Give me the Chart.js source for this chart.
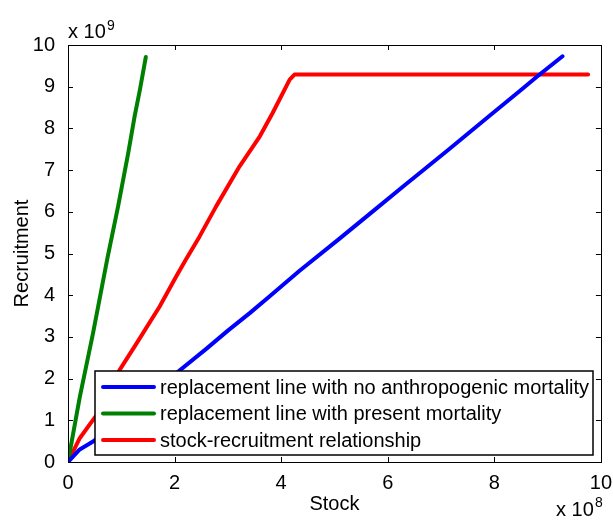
<!DOCTYPE html>
<html>
<head>
<meta charset="utf-8">
<script src="https://cdn.jsdelivr.net/npm/chart.js@4.4.1/dist/chart.umd.min.js"></script>
<style>
  html, body { margin: 0; padding: 0; background: #fff; }
  #wrap { width: 613px; height: 520px; position: relative; }
</style>
</head>
<body>
<div id="wrap"><canvas id="chart"></canvas></div>
<script>
// Stock in units of 1e8, recruitment in units of 1e9
const seriesLabels = [
    'replacement line with no anthropogenic mortality',
    'replacement line with present mortality',
    'stock-recruitment relationship'
];

const blueStock = [0, 0.22, 0.47, 1.0, 1.5, 2.03, 2.6, 3.0, 3.41, 3.78, 4.34, 5.09, 5.72, 6.34, 6.59, 7.15, 7.9, 8.5, 8.81, 9.28];
const blueRecr  = [0, 0.30, 0.49, 1.03, 1.56, 2.13, 2.72, 3.15, 3.57, 3.97, 4.58, 5.35, 6.01, 6.66, 6.92, 7.50, 8.29, 8.92, 9.25, 9.73];

const greenStock = [0, 0.22, 0.47, 0.74, 0.94, 1.13, 1.25, 1.35, 1.46];
const greenRecr  = [0, 1.55, 3.09, 4.89, 6.13, 7.41, 8.29, 8.93, 9.71];

const redStock = [0, 0.22, 0.47, 0.66, 0.97, 1.29, 1.72, 2.03, 2.21, 2.47, 2.78, 3.22, 3.6, 3.84, 4.16, 4.25, 9.76];
const redRecr  = [0, 0.57, 1.01, 1.33, 2.21, 2.85, 3.73, 4.45, 4.85, 5.41, 6.13, 7.09, 7.81, 8.37, 9.17, 9.29, 9.29];

const xTicks = [0, 2, 4, 6, 8, 10];
const yTicks = [0, 1, 2, 3, 4, 5, 6, 7, 8, 9, 10];

const FONT = '"Liberation Sans", Arial, sans-serif';

function toPoints(xs, ys) {
    return xs.map((x, i) => ({ x: x, y: ys[i] }));
}

// MATLAB-like box, inward ticks, exponent labels and legend
const matlabPlugin = {
    id: 'matlab',
    afterDraw(chart) {
        const ctx = chart.ctx;
        const a = chart.chartArea;
        const xs = chart.scales.x, ys = chart.scales.y;
        ctx.save();
        ctx.strokeStyle = '#000';
        ctx.lineWidth = 1;
        ctx.strokeRect(Math.round(a.left) + 0.5, Math.round(a.top) + 0.5, Math.round(a.right - a.left), Math.round(a.bottom - a.top));

        const tl = 5;
        ctx.beginPath();
        xTicks.forEach(v => {
            const px = Math.round(xs.getPixelForValue(v)) + 0.5;
            ctx.moveTo(px, a.bottom); ctx.lineTo(px, a.bottom - tl);
            ctx.moveTo(px, a.top); ctx.lineTo(px, a.top + tl);
        });
        yTicks.forEach(v => {
            const py = Math.round(ys.getPixelForValue(v)) + 0.5;
            ctx.moveTo(a.left, py); ctx.lineTo(a.left + tl, py);
            ctx.moveTo(a.right, py); ctx.lineTo(a.right - tl, py);
        });
        ctx.stroke();

        // exponent labels
        ctx.fillStyle = '#000';
        ctx.textBaseline = 'alphabetic';
        ctx.textAlign = 'left';
        ctx.font = '20px ' + FONT;
        ctx.fillText('x 10', a.left, 38);
        ctx.font = '14px ' + FONT;
        ctx.fillText('9', a.left + 39, 30);
        ctx.font = '20px ' + FONT;
        ctx.fillText('x 10', 556, 516);
        ctx.font = '14px ' + FONT;
        ctx.fillText('8', 595, 507);

        // legend box
        const lx = 95, ly = 371, lw = 498, lh = 84;
        ctx.fillStyle = '#fff';
        ctx.fillRect(lx, ly, lw, lh);
        ctx.lineWidth = 1.5;
        ctx.strokeStyle = '#000';
        ctx.strokeRect(lx, ly, lw, lh);
        const rows = [387, 413.5, 440];
        ctx.font = '20px ' + FONT;
        ctx.textBaseline = 'middle';
        chart.data.datasets.forEach((ds, i) => {
            ctx.strokeStyle = ds.borderColor;
            ctx.lineWidth = 4;
            ctx.lineCap = 'round';
            ctx.beginPath();
            ctx.moveTo(103, rows[i]);
            ctx.lineTo(154, rows[i]);
            ctx.stroke();
            ctx.fillStyle = '#000';
            ctx.fillText(ds.label, 160, rows[i] + 1);
        });
        ctx.restore();
    }
};

new Chart(document.getElementById('chart'), {
    type: 'line',
    data: {
        datasets: [
            { label: seriesLabels[0], data: toPoints(blueStock, blueRecr), borderColor: '#0000FF' },
            { label: seriesLabels[1], data: toPoints(greenStock, greenRecr), borderColor: '#008000' },
            { label: seriesLabels[2], data: toPoints(redStock, redRecr), borderColor: '#FF0000' }
        ].map(ds => Object.assign(ds, {
            borderWidth: 4,
            pointRadius: 0,
            fill: false,
            tension: 0,
            borderCapStyle: 'round',
            borderJoinStyle: 'round'
        }))
    },
    options: {
        responsive: true,
        maintainAspectRatio: false,
        animation: false,
        layout: { padding: { left: 0, right: 12, top: 45, bottom: 0 } },
        plugins: {
            legend: { display: false },
            tooltip: { enabled: false }
        },
        scales: {
            x: {
                type: 'linear',
                min: 0, max: 10,
                afterBuildTicks: s => { s.ticks = xTicks.map(v => ({ value: v })); },
                afterFit: s => { s.height = 58; },
                grid: { display: false },
                border: { display: false },
                ticks: { color: '#000', font: { family: FONT, size: 20 }, padding: 1, maxRotation: 0 },
                title: { display: true, text: 'Stock', color: '#000', font: { family: FONT, size: 20 }, padding: { top: 0, bottom: 4 } }
            },
            y: {
                type: 'linear',
                min: 0, max: 10,
                afterBuildTicks: s => { s.ticks = yTicks.map(v => ({ value: v })); },
                afterFit: s => { s.width = 68; },
                grid: { display: false },
                border: { display: false },
                ticks: { color: '#000', font: { family: FONT, size: 20 }, padding: 5 },
                title: { display: true, text: 'Recruitment', color: '#000', font: { family: FONT, size: 20 }, padding: { top: 10, bottom: 0 } }
            }
        }
    },
    plugins: [matlabPlugin]
});
</script>
</body>
</html>
